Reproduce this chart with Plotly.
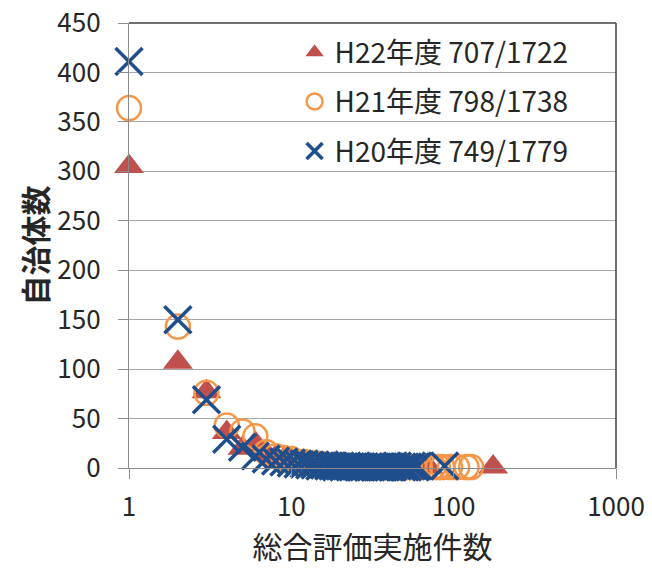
import plotly.graph_objects as go

# ---- data ----
h22_x = [1, 2, 3, 4, 5, 6, 7, 8, 9, 10, 11, 12, 13, 14, 15, 16, 17, 18, 19, 20,
         21, 22, 23, 24, 25, 26, 27, 28, 29, 30, 31, 32, 34, 35, 36, 38, 40, 43,
         46, 50, 56, 70, 175]
h22_y = [305, 107, 77, 36, 20, 25, 14, 11, 9, 8, 6, 6, 5, 5, 4, 4, 3, 3, 3, 3,
         2, 3, 2, 2, 2, 2, 2, 1, 1, 2, 1, 1, 1, 1, 1, 1, 1, 1,
         1, 1, 1, 1, 1]

h21_x = [1, 2, 3, 4, 5, 6, 7, 8, 9, 10, 11, 12, 13, 14, 15, 16, 17, 18, 19, 20,
         21, 22, 23, 24, 25, 26, 27, 28, 29, 30, 32, 34, 35, 37, 39, 41, 44, 47,
         50, 53, 57, 62, 75, 80, 85, 95, 105, 120, 128]
h21_y = [364, 143, 76, 43, 37, 32, 16, 12, 10, 9, 6, 6, 5, 4, 4, 3, 3, 3, 2, 3,
         2, 2, 2, 2, 1, 2, 1, 1, 1, 2, 1, 1, 1, 1, 1, 1, 1, 1,
         1, 1, 1, 1, 1, 1, 1, 1, 1, 1, 1]

h20_x = [1, 2, 3, 4, 5, 6, 7, 8, 9, 10, 11, 12, 13, 14, 15, 16, 17, 18, 19, 20,
         21, 22, 23, 24, 25, 26, 27, 28, 30, 31, 33, 35, 36, 38, 40, 42, 45, 48,
         50, 52, 55, 58, 60, 88]
h20_y = [411, 150, 69, 29, 21, 12, 9, 7, 6, 5, 4, 4, 3, 3, 2, 3, 2, 2, 1, 2,
         1, 2, 1, 1, 2, 1, 1, 1, 1, 1, 1, 1, 1, 1, 1, 1, 2, 1,
         1, 1, 2, 1, 2, 2]

series_names = ["H22年度 707/1722", "H21年度 798/1738", "H20年度 749/1779"]
y_ticks = [0, 50, 100, 150, 200, 250, 300, 350, 400, 450]
x_ticks = [1, 10, 100, 1000]
x_title = "総合評価実施件数"
y_title = "自治体数"

FONT = "Noto Sans CJK JP"
TXT = "#262626"

fig = go.Figure()
fig.add_trace(go.Scatter(
    x=h22_x, y=h22_y, mode="markers", name=series_names[0], legendgroup="a",
    cliponaxis=False,
    marker=dict(symbol="triangle-up", size=26, color="#C0504D", line=dict(width=0)),
))
fig.add_trace(go.Scatter(
    x=h21_x, y=h21_y, mode="markers", name=series_names[1], legendgroup="b",
    cliponaxis=False,
    marker=dict(symbol="circle-open", size=24, color="#F79646", line=dict(width=2.5, color="#F79646")),
))
fig.add_trace(go.Scatter(
    x=h20_x, y=h20_y, mode="markers", name=series_names[2], legendgroup="c",
    cliponaxis=False,
    marker=dict(symbol="x-thin-open", size=27, color="#1F4E8C", line=dict(width=3.5, color="#1F4E8C")),
))

fig.update_layout(
    width=652, height=572,
    margin=dict(l=129, r=36, t=23, b=104, autoexpand=False),
    paper_bgcolor="white", plot_bgcolor="white",
    font=dict(family=FONT, size=24, color=TXT),
    showlegend=True,
    legend=dict(
        x=0.34, y=0.99, xanchor="left", yanchor="top",
        bgcolor="rgba(0,0,0,0)", borderwidth=0,
        font=dict(family=FONT, size=28, color=TXT),
        traceorder="grouped", tracegroupgap=10, itemwidth=30,
    ),
    shapes=[
        dict(type="line", xref="paper", yref="paper", x0=0, x1=1, y0=1, y1=1,
             line=dict(color="#404040", width=1.5), layer="above"),
        dict(type="line", xref="paper", yref="paper", x0=1, x1=1, y0=0, y1=1,
             line=dict(color="#404040", width=1.5), layer="above"),
    ],
)

fig.update_xaxes(
    type="log", range=[0, 3],
    tickvals=x_ticks, ticktext=[str(v) for v in x_ticks],
    ticks="outside", ticklen=10, tickcolor="#8C8C8C", tickwidth=1.3,
    showline=True, linecolor="#8C8C8C", linewidth=1.3,
    showgrid=False, zeroline=False,
    tickfont=dict(family=FONT, size=26, color=TXT),
    ticklabelstandoff=6,
    title=dict(text=x_title, font=dict(family=FONT, size=30, color=TXT), standoff=12),
    automargin=False,
)
fig.update_yaxes(
    range=[0, 450],
    tickvals=y_ticks,
    ticks="outside", ticklen=10, tickcolor="#8C8C8C", tickwidth=1.3,
    showline=True, linecolor="#8C8C8C", linewidth=1.3,
    showgrid=True, gridcolor="#A6A6A6", gridwidth=1.3,
    zeroline=False,
    tickfont=dict(family=FONT, size=26, color=TXT),
    ticklabelstandoff=12,
    title=dict(text="<b>" + y_title + "</b>", font=dict(family=FONT, size=30, color=TXT), standoff=0),
    automargin=False,
)

fig.write_html("out.html")
